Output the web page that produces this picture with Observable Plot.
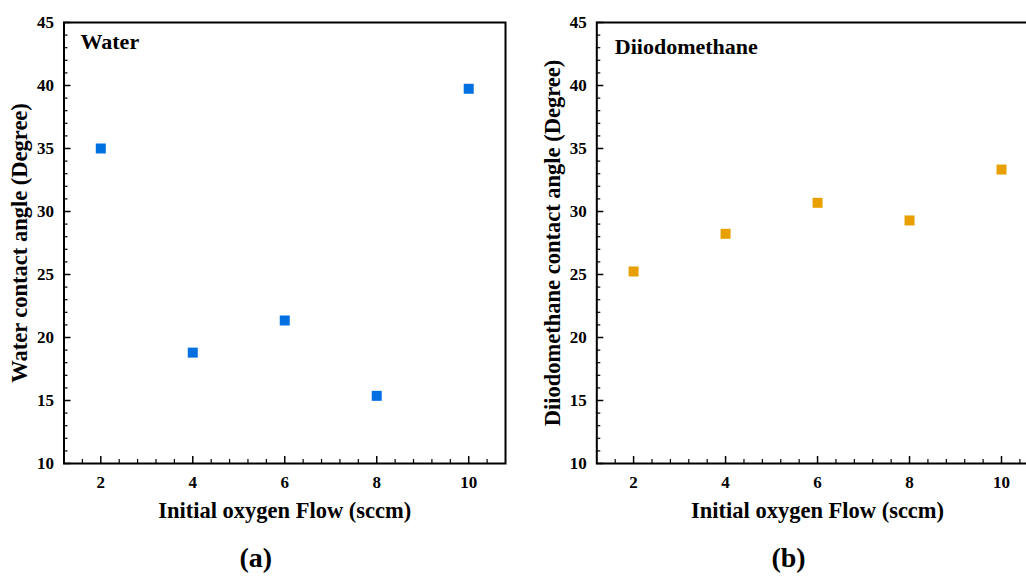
<!DOCTYPE html>
<html><head><meta charset="utf-8">
<script src="https://cdn.jsdelivr.net/npm/d3@7"></script>
<script src="https://cdn.jsdelivr.net/npm/@observablehq/plot@0.6"></script>
<style>
body{margin:0;background:#fff}
#wrap{position:relative;width:1026px;height:581px;overflow:hidden;background:#fff}
.p{position:absolute;top:0}
#wrap svg, #wrap svg text{font-family:"Liberation Serif","Times New Roman",serif !important;font-weight:bold}
#wrap svg g[aria-label$="tick label"]{font-size:17px}
</style>
</head><body><div id="wrap"></div>
<script>
const flow = [2, 4, 6, 8, 10];
const water = [35.0, 18.8, 21.35, 15.37, 39.74];
const diiodo = [25.24, 28.23, 30.69, 29.29, 33.33];
const yMajor = [10, 15, 20, 25, 30, 35, 40, 45];
const yMinor = [11,12,13,14,16,17,18,19,21,22,23,24,26,27,28,29,31,32,33,34,36,37,38,39,41,42,43,44];
const xMajor = [2, 4, 6, 8, 10];
const xMinor = [1.6,2.4,2.8,3.2,3.6,4.4,4.8,5.2,5.6,6.4,6.8,7.2,7.6,8.4,8.8,9.2,9.6,10.4];
const xTitle = "Initial oxygen Flow (sccm)";

const FONT = "Liberation Serif";
const innerW = 441.5, innerH = 441;

function panel({left, width, marginLeft, marginRight, values, color, yTitle, name, nameDx, nameDy, tag}) {
  const data = flow.map((f, i) => ({f, v: values[i]}));
  const txt = {fontFamily: FONT, fontWeight: "bold", fill: "black"};
  const p = Plot.plot({
    width, height: 581,
    marginLeft, marginRight, marginTop: 22, marginBottom: 118,
    style: {background: "transparent", overflow: "visible"},
    x: {domain: [1.2, 10.8]},
    y: {domain: [10, 45]},
    marks: [
      Plot.axisY({ticks: yMajor, tickSize: 0, tickPadding: 10, fontSize: 17, label: null, ...txt}),
      Plot.axisX({ticks: xMajor, tickSize: 0, tickPadding: 12, fontSize: 17, label: null, ...txt}),
      Plot.ruleY(yMajor, {y: d => d, insetRight: innerW - 7, stroke: "black", strokeWidth: 1.5}),
      Plot.ruleY(yMinor, {y: d => d, insetRight: innerW - 4, stroke: "black", strokeWidth: 1.2}),
      Plot.ruleX(xMajor, {x: d => d, insetTop: innerH - 7, stroke: "black", strokeWidth: 1.5}),
      Plot.ruleX(xMinor, {x: d => d, insetTop: innerH - 4, stroke: "black", strokeWidth: 1.2}),
      Plot.frame({stroke: "black", strokeWidth: 2}),
      Plot.dot(data, {x: "f", y: "v", symbol: "square", r: 5.64, fill: color, stroke: "none"}),
      Plot.text([name], {frameAnchor: "top-left", textAnchor: "start", lineAnchor: "top", dx: nameDx, dy: nameDy, fontSize: 22, ...txt}),
      Plot.text([xTitle], {frameAnchor: "bottom", textAnchor: "middle", dy: 54, fontSize: 22.5, ...txt}),
      Plot.text([yTitle], {frameAnchor: "left", textAnchor: "middle", dx: -44, rotate: -90, fontSize: 22.5, ...txt}),
      Plot.text([tag], {frameAnchor: "bottom", textAnchor: "middle", dx: -29, dy: 103, fontSize: 28, ...txt})
    ]
  });
  p.classList.add("p");
  p.style.left = left + "px";
  document.getElementById("wrap").appendChild(p);
}

panel({left: 0, width: 520, marginLeft: 63.5, marginRight: 15, values: water, color: "#0070e0",
  yTitle: "Water contact angle (Degree)", name: "Water", nameDx: 16.5, nameDy: 11, tag: "(a)"});
panel({left: 520, width: 530, marginLeft: 76.3, marginRight: 12.2, values: diiodo, color: "#e8a000",
  yTitle: "Diiodomethane contact angle (Degree)", name: "Diiodomethane", nameDx: 18, nameDy: 16, tag: "(b)"});
</script>
</body></html>
